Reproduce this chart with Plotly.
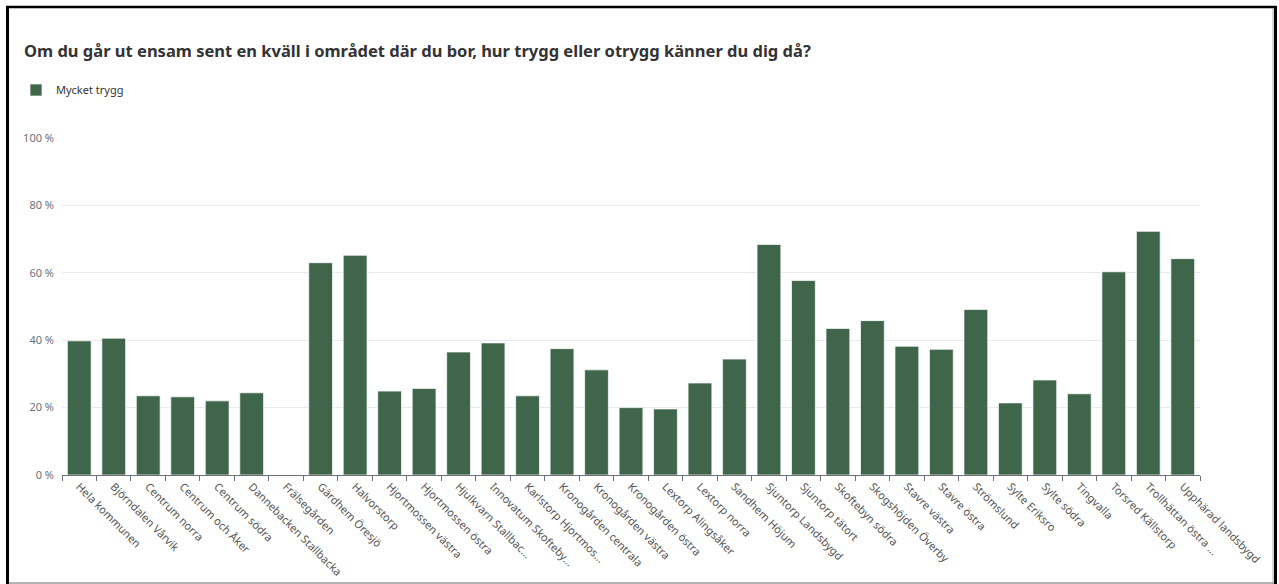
import plotly.graph_objects as go

categories = [
    "Hela kommunen", "Björndalen Vårvik", "Centrum norra", "Centrum och Åker",
    "Centrum södra", "Dannebacken Stallbacka", "Frälsegården", "Gärdhem Öresjö",
    "Halvorstorp", "Hjortmossen västra", "Hjortmossen östra", "Hjulkvarn Stallbac...",
    "Innovatum Skofteby...", "Karlstorp Hjortmos...", "Kronogården centrala",
    "Kronogården västra", "Kronogården östra", "Lextorp Alingsåker", "Lextorp norra",
    "Sandhem Höjum", "Sjuntorp Landsbygd", "Sjuntorp tätort", "Skoftebyn södra",
    "Skogshöjden Överby", "Stavre västra", "Stavre östra", "Strömslund",
    "Sylte Eriksro", "Sylte södra", "Tingvalla", "Torsred Källstorp",
    "Trollhättan östra ...", "Upphärad landsbygd",
]
mycket_trygg = [
    39.8, 40.6, 23.5, 23.2, 22.0, 24.4, 0.0, 63.0, 65.2, 24.9, 25.7, 36.5,
    39.2, 23.5, 37.5, 31.2, 20.0, 19.6, 27.3, 34.4, 68.4, 57.7, 43.5, 45.8,
    38.2, 37.3, 49.1, 21.4, 28.2, 24.1, 60.3, 72.3, 64.2,
]
y_ticks = [0, 20, 40, 60, 80, 100]
y_tick_labels = ["0 %", "20 %", "40 %", "60 %", "80 %", "100 %"]

W, H = 1279, 584
L, R, T, B = 62, 1200, 138, 475


def px(x):
    return (x - L) / (R - L)


def py(y):
    return (B - y) / (B - T)


fig = go.Figure()
fig.add_trace(go.Bar(
    x=categories, y=mycket_trygg, name="Mycket trygg",
    marker=dict(color="#3f664a", line=dict(color="rgba(255,255,255,0.7)", width=1)),
))

font_family = "Noto Sans, Open Sans, sans-serif"

fig.update_layout(
    width=W, height=H,
    margin=dict(l=L, r=W - R, t=T, b=H - B, autoexpand=False),
    paper_bgcolor="white", plot_bgcolor="white",
    font=dict(family=font_family, color="#6e7079", size=11),
    bargap=0.31,
    showlegend=True,
    legend=dict(
        x=px(16), y=py(90), xanchor="left", yanchor="middle",
        orientation="h", font=dict(size=11, color="#333333"),
        bgcolor="rgba(0,0,0,0)", itemwidth=30,
    ),
    title=dict(
        text="<b>Om du går ut ensam sent en kväll i området där du bor, hur trygg eller otrygg känner du dig då?</b>",
        x=24 / W, xref="container", xanchor="left",
        y=1 - 51 / H, yref="container", yanchor="middle",
        font=dict(size=16.5, color="#333333", family=font_family),
    ),
    xaxis=dict(
        type="category", tickangle=45,
        showline=True, linecolor="#6e7079", linewidth=1,
        ticks="outside", tickson="boundaries", ticklen=5, tickcolor="#6e7079",
        tickfont=dict(size=11, color="#555555"),
        showgrid=False, automargin=False,
    ),
    yaxis=dict(
        range=[0, 100], tickvals=y_ticks, ticktext=y_tick_labels,
        showgrid=True, gridcolor="#e6e9f2", gridwidth=1,
        zeroline=False, showline=False,
        tickfont=dict(size=11, color="#6e7079"),
        ticklabelstandoff=7,
        automargin=False,
    ),
    shapes=[
        dict(type="line", xref="paper", yref="paper", x0=px(7.5), x1=px(7.5), y0=py(6), y1=py(585),
             line=dict(color="black", width=3)),
        dict(type="line", xref="paper", yref="paper", x0=px(6), x1=px(1276.5), y0=py(7), y1=py(7),
             line=dict(color="black", width=2.5)),
        dict(type="line", xref="paper", yref="paper", x0=px(1275.5), x1=px(1275.5), y0=py(6), y1=py(585),
             line=dict(color="black", width=3)),
        dict(type="line", xref="paper", yref="paper", x0=px(1273), x1=px(1273), y0=py(8), y1=py(585),
             line=dict(color="#aaaaaa", width=1)),
        dict(type="line", xref="paper", yref="paper", x0=px(9), x1=px(1274), y0=py(583), y1=py(583),
             line=dict(color="#999999", width=1.5)),
    ],
)

fig.write_html(
    "out.html",
    config={"displayModeBar": False},
    post_script="document.body.style.margin='0';document.body.style.overflow='hidden';",
)
